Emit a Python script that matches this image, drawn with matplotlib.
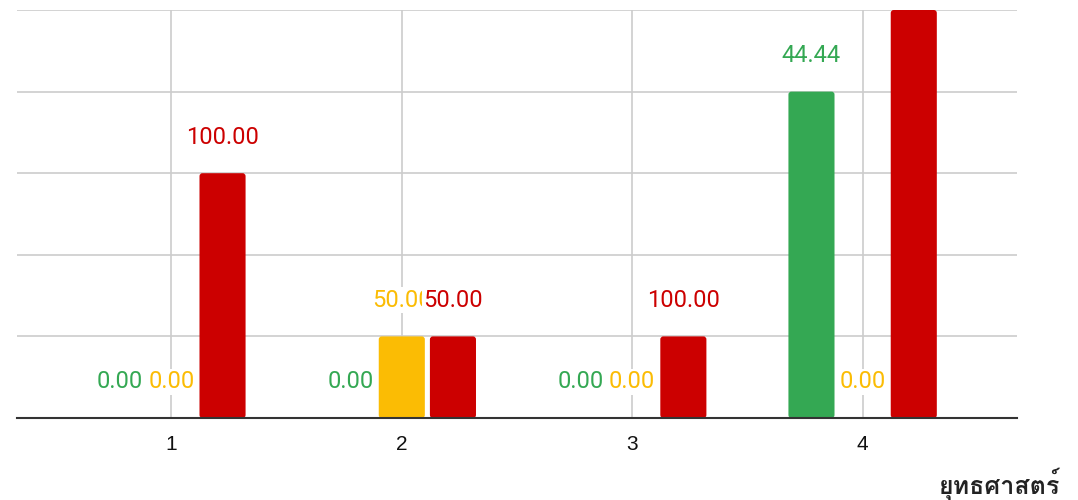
import matplotlib
matplotlib.use("Agg")
import matplotlib.pyplot as plt
import numpy as np
from matplotlib import font_manager as fm
from matplotlib.ft2font import FT2Font
from matplotlib.patches import FancyBboxPatch

categories = ['1', '2', '3', '4']
green_vals = [0, 0, 0, 4]
yellow_vals = [0, 1, 0, 0]
red_vals = [3, 1, 1, 5]
green_labels = ['0.00', '0.00', '0.00', '44.44']
yellow_labels = ['0.00', '50.00', '0.00', '0.00']
red_labels = ['100.00', '50.00', '100.00', '55.56']
x_title = 'ยุทธศาสตร์'

GREEN = '#34A853'
YELLOW = '#FBBC04'
RED = '#CC0000'

# find a font that has Thai glyphs
thai_family = None
for f in fm.fontManager.ttflist:
    try:
        cm = FT2Font(f.fname).get_charmap()
        if all(ord(c) in cm for c in x_title):
            thai_family = f.name
            break
    except Exception:
        pass
title_fams = ([thai_family] if thai_family else []) + ['DejaVu Sans']

plt.rcParams['font.family'] = ['Roboto', 'DejaVu Sans']

fig = plt.figure(figsize=(10.78, 5.0), dpi=100)
ax_w_px, ax_h_px = 1000, 408
ax = fig.add_axes([17 / 1078, 82 / 500, ax_w_px / 1078, ax_h_px / 500])

x = np.arange(1, len(categories) + 1)
w = 0.2
off = 0.222
xlim = (0.33, 4.67)
ymax = 5
series = [(green_vals, green_labels, GREEN, -off),
          (yellow_vals, yellow_labels, YELLOW, 0.0),
          (red_vals, red_labels, RED, off)]

px_per_x = ax_w_px / (xlim[1] - xlim[0])
px_per_y = ax_h_px / ymax
radius_px = 3.0
for vals, labs, col, dx in series:
    bars = ax.bar(x + dx, vals, width=w, color=col, zorder=3)
    for b in bars:
        if b.get_height() <= 0:
            continue
        b.set_visible(False)
        fb = FancyBboxPatch((b.get_x(), b.get_y()), b.get_width(), b.get_height(),
                            boxstyle=f"round,pad=0,rounding_size={radius_px / px_per_x}",
                            mutation_aspect=px_per_x / px_per_y,
                            facecolor=col, edgecolor='none', zorder=3)
        ax.add_patch(fb)

for vals, labs, col, dx in series:
    for xi, v, lab in zip(x, vals, labs):
        if v >= ymax:
            continue  # label falls outside the plot area (hidden in reference)
        ax.annotate(lab, (xi + dx, v), xytext=(0, 26), textcoords='offset points',
                    ha='center', va='center', fontsize=17, color=col, zorder=5,
                    annotation_clip=True, clip_on=True,
                    bbox=dict(facecolor='white', edgecolor='none', pad=1.0))

ax.set_xlim(*xlim)
ax.set_ylim(0, ymax)
ax.set_xticks(x)
ax.set_xticklabels(categories, fontsize=15, color='#111111',
                   family=['Liberation Sans', 'DejaVu Sans'])
ax.set_yticks(np.arange(0, ymax + 1))
ax.set_yticklabels([])
ax.tick_params(axis='both', length=0, pad=12)
ax.grid(True, color='#cccccc', linewidth=1.2, zorder=0)
ax.set_axisbelow(True)
for s in ['top', 'left', 'right']:
    ax.spines[s].set_visible(False)
ax.spines['bottom'].set_color('#333333')
ax.spines['bottom'].set_linewidth(1.5)
ax.spines['bottom'].set_zorder(4)

fig.text(1060 / 1078, 1 - 484 / 500, x_title, ha='right', va='center',
         fontsize=18, fontweight='bold', color='#222222', family=title_fams)

fig.savefig('out.png', dpi=100)
